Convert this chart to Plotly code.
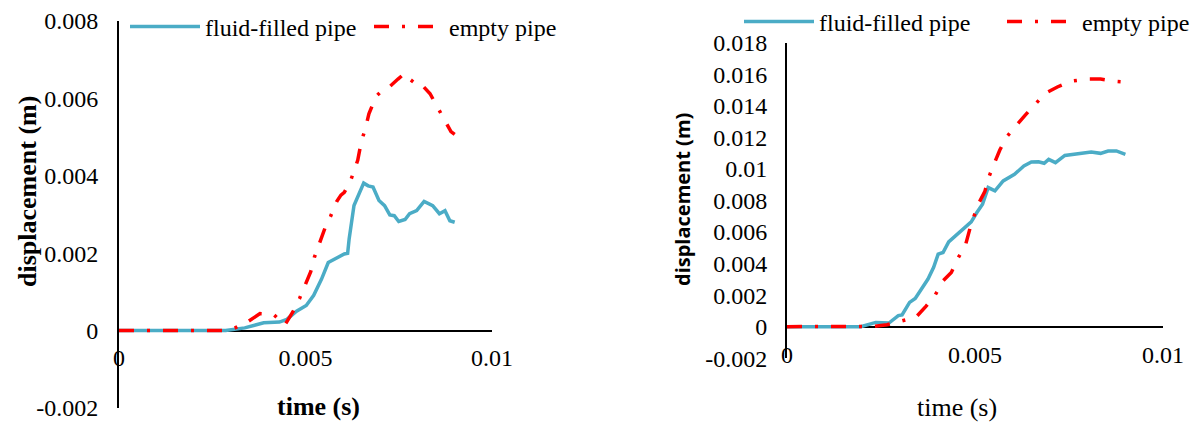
import plotly.graph_objects as go

# ---------------- data (left panel) ----------------
left_fluid_t = [0, 0.001, 0.002, 0.00286, 0.00337, 0.00388, 0.0043, 0.0045, 0.00476, 0.00502,
                0.00522, 0.00543, 0.00561, 0.00584, 0.00604, 0.00613, 0.00617, 0.0063, 0.00644,
                0.00656, 0.00668, 0.00681, 0.00697, 0.00712, 0.00726, 0.00738, 0.0075, 0.00767,
                0.00779, 0.00798, 0.00818, 0.00841, 0.00859, 0.00874, 0.00887, 0.009]
left_fluid_d = [0, 0, 0, 0, 0.00007, 0.0002, 0.00022, 0.00029, 0.0005, 0.00065,
                0.00091, 0.00133, 0.00176, 0.00189, 0.00198, 0.002, 0.00237, 0.00323, 0.00354,
                0.00381, 0.00374, 0.00371, 0.00336, 0.00323, 0.00299, 0.00297, 0.00282, 0.00287,
                0.00302, 0.0031, 0.00334, 0.00323, 0.00302, 0.0031, 0.00284, 0.0028]

left_empty_t = [0, 0.001, 0.002, 0.0029, 0.00311, 0.00347, 0.00378, 0.00414, 0.00445, 0.00466,
                0.00484, 0.005, 0.00514, 0.00524, 0.00541, 0.00553, 0.00567, 0.00584, 0.00595,
                0.00604, 0.0062, 0.0063, 0.0064, 0.0065, 0.0066, 0.0067, 0.00689, 0.00705,
                0.00725, 0.00748, 0.00764, 0.00772, 0.00779, 0.0079, 0.00805, 0.00834, 0.00856,
                0.00872, 0.0089, 0.009]
left_empty_d = [0, 0, 0, 0, 0.00007, 0.00024, 0.00044, 0.00042, 0.00015, 0.00048,
                0.00083, 0.00117, 0.00152, 0.0019, 0.00237, 0.00267, 0.00295, 0.00334, 0.0035,
                0.00357, 0.00385, 0.0041, 0.0044, 0.0049, 0.0052, 0.0056, 0.00605, 0.0062,
                0.0063, 0.0065, 0.00663, 0.00662, 0.0065, 0.00642, 0.00642, 0.00612, 0.00575,
                0.00545, 0.00514, 0.00507]

# ---------------- data (right panel) ----------------
right_fluid_t = [0, 0.001, 0.00196, 0.00236, 0.00271, 0.00296, 0.00306, 0.00326, 0.00341, 0.00375,
                 0.0039, 0.00402, 0.00415, 0.0043, 0.0045, 0.0047, 0.0049, 0.00505, 0.0052,
                 0.00535, 0.00553, 0.00575, 0.00605, 0.0063, 0.0065, 0.00669, 0.00684, 0.00696,
                 0.00714, 0.00739, 0.00764, 0.00789, 0.00809, 0.00834, 0.00854, 0.00876, 0.009]
right_fluid_d = [0, 0, 0, 0.00027, 0.00023, 0.0007, 0.00074, 0.00154, 0.00179, 0.00302,
                 0.00376, 0.0046, 0.0047, 0.00538, 0.0058, 0.00629, 0.00665, 0.00724, 0.00776,
                 0.00882, 0.00861, 0.00924, 0.00966, 0.01019, 0.01044, 0.01046, 0.01036, 0.01061,
                 0.0104, 0.01086, 0.01093, 0.01099, 0.01108, 0.01099, 0.01114, 0.01114, 0.01093]

right_empty_t = [0, 0.001, 0.002, 0.0023, 0.00266, 0.00307, 0.00343, 0.0037, 0.00394, 0.00415,
                 0.0043, 0.00437, 0.00455, 0.00475, 0.00488, 0.00495, 0.00508, 0.00526, 0.00537,
                 0.00552, 0.00566, 0.00584, 0.00607, 0.00633, 0.0066, 0.00687, 0.00719, 0.00756,
                 0.00799, 0.00834, 0.00874, 0.009]
right_empty_d = [0, 0, 0, 0.00002, 0.00012, 0.0004, 0.0006, 0.0013, 0.002, 0.0029,
                 0.0033, 0.00344, 0.00435, 0.0052, 0.00635, 0.0069, 0.00774, 0.00856, 0.0095,
                 0.01039, 0.0112, 0.01203, 0.0127, 0.0134, 0.0141, 0.0148, 0.0152, 0.01557,
                 0.0157, 0.0157, 0.01555, 0.0155]

series_names = ["fluid-filled pipe", "empty pipe"]

x_tickvals = [0, 0.005, 0.01]
x_ticktext = ["0", "0.005", "0.01"]
left_y_tickvals = [-0.002, 0, 0.002, 0.004, 0.006, 0.008]
left_y_ticktext = ["-0.002", "0", "0.002", "0.004", "0.006", "0.008"]
right_y_tickvals = [-0.002, 0, 0.002, 0.004, 0.006, 0.008, 0.01, 0.012, 0.014, 0.016, 0.018]
right_y_ticktext = ["-0.002", "0", "0.002", "0.004", "0.006", "0.008", "0.01", "0.012",
                    "0.014", "0.016", "0.018"]

# ---------------- styling ----------------
W, H = 1190, 422
BLUE = "#4BACC6"
RED = "#FF0000"
SERIF = "'Liberation Serif', 'Times New Roman', Tinos, serif"
SANS = "'Open Sans', 'DejaVu Sans', sans-serif"
DASHDOT = "15px,13px,3px,13px"
FS = 24


def px_x(p):
    return p / W


def px_y(p):
    return 1 - p / H


fig = go.Figure()

fig.add_trace(go.Scatter(x=left_fluid_t, y=left_fluid_d, name=series_names[0], mode="lines",
                         line=dict(color=BLUE, width=3.5), xaxis="x", yaxis="y", legend="legend"))
fig.add_trace(go.Scatter(x=left_empty_t, y=left_empty_d, name=series_names[1], mode="lines",
                         line=dict(color=RED, width=3.5, dash=DASHDOT), xaxis="x", yaxis="y",
                         legend="legend"))
fig.add_trace(go.Scatter(x=right_fluid_t, y=right_fluid_d, name=series_names[0], mode="lines",
                         line=dict(color=BLUE, width=3.5), xaxis="x2", yaxis="y2", legend="legend2"))
fig.add_trace(go.Scatter(x=right_empty_t, y=right_empty_d, name=series_names[1], mode="lines",
                         line=dict(color=RED, width=3.5, dash=DASHDOT), xaxis="x2", yaxis="y2",
                         legend="legend2"))

# left panel geometry
L_dom_x = [px_x(119), px_x(492)]
L_dom_y = [px_y(408), px_y(21)]
L_zero = L_dom_y[0] + 0.2 * (L_dom_y[1] - L_dom_y[0])
# right panel geometry
R_dom_x = [px_x(787), px_x(1163)]
R_dom_y = [px_y(358.2), px_y(42.8)]
R_zero = R_dom_y[0] + 0.1 * (R_dom_y[1] - R_dom_y[0])

axis_common = dict(showgrid=False, zeroline=False, showline=True, linecolor="black",
                   linewidth=2, layer="below traces", automargin=False,
                   tickfont=dict(family=SERIF, size=FS, color="black"),
                   ticks="outside", tickcolor="rgba(0,0,0,0)")

fig.update_layout(
    width=W, height=H,
    margin=dict(l=0, r=0, t=0, b=0, autoexpand=False),
    paper_bgcolor="white", plot_bgcolor="white",
    showlegend=True,
    xaxis=dict(domain=L_dom_x, range=[0, 0.01], anchor="free", position=L_zero,
               tickmode="array", tickvals=x_tickvals, ticktext=x_ticktext, ticklen=6,
               **axis_common),
    yaxis=dict(domain=L_dom_y, range=[-0.002, 0.008], anchor="x",
               tickmode="array", tickvals=left_y_tickvals, ticktext=left_y_ticktext,
               ticklen=14, **axis_common),
    xaxis2=dict(domain=R_dom_x, range=[0, 0.01], anchor="free", position=R_zero,
                tickmode="array", tickvals=x_tickvals, ticktext=x_ticktext, ticklen=7,
                **axis_common),
    yaxis2=dict(domain=R_dom_y, range=[-0.002, 0.018], anchor="x2",
                tickmode="array", tickvals=right_y_tickvals, ticktext=right_y_ticktext,
                ticklen=13, **axis_common),
    legend=dict(orientation="h", x=px_x(125), xanchor="left", y=px_y(27), yanchor="middle",
                font=dict(family=SERIF, size=FS, color="black"), itemwidth=70,
                bgcolor="rgba(0,0,0,0)", borderwidth=0, entrywidthmode="pixels", entrywidth=159,
                tracegroupgap=0),
    legend2=dict(orientation="h", x=px_x(739), xanchor="left", y=px_y(22), yanchor="middle",
                 font=dict(family=SERIF, size=FS, color="black"), itemwidth=70,
                 bgcolor="rgba(0,0,0,0)", borderwidth=0, entrywidthmode="pixels", entrywidth=178,
                 tracegroupgap=0),
    annotations=[
        dict(text="<b>displacement (m)</b>", x=px_x(27), y=px_y(192), xref="paper", yref="paper",
             textangle=-90, showarrow=False, font=dict(family=SERIF, size=26, color="black"),
             xanchor="center", yanchor="middle"),
        dict(text="<b>time (s)</b>", x=px_x(318), y=px_y(406), xref="paper", yref="paper",
             showarrow=False, font=dict(family=SERIF, size=26, color="black"),
             xanchor="center", yanchor="middle"),
        dict(text="<b>displacement (m)</b>", x=px_x(682), y=px_y(200), xref="paper", yref="paper",
             textangle=-90, showarrow=False, font=dict(family=SANS, size=20, color="black"),
             xanchor="center", yanchor="middle"),
        dict(text="time (s)", x=px_x(957), y=px_y(407), xref="paper", yref="paper",
             showarrow=False, font=dict(family=SERIF, size=26, color="black"),
             xanchor="center", yanchor="middle"),
    ],
)

fig.write_html("out.html", config={"displayModeBar": False},
               post_script="document.body.style.margin='0';document.body.style.overflow='hidden';")
